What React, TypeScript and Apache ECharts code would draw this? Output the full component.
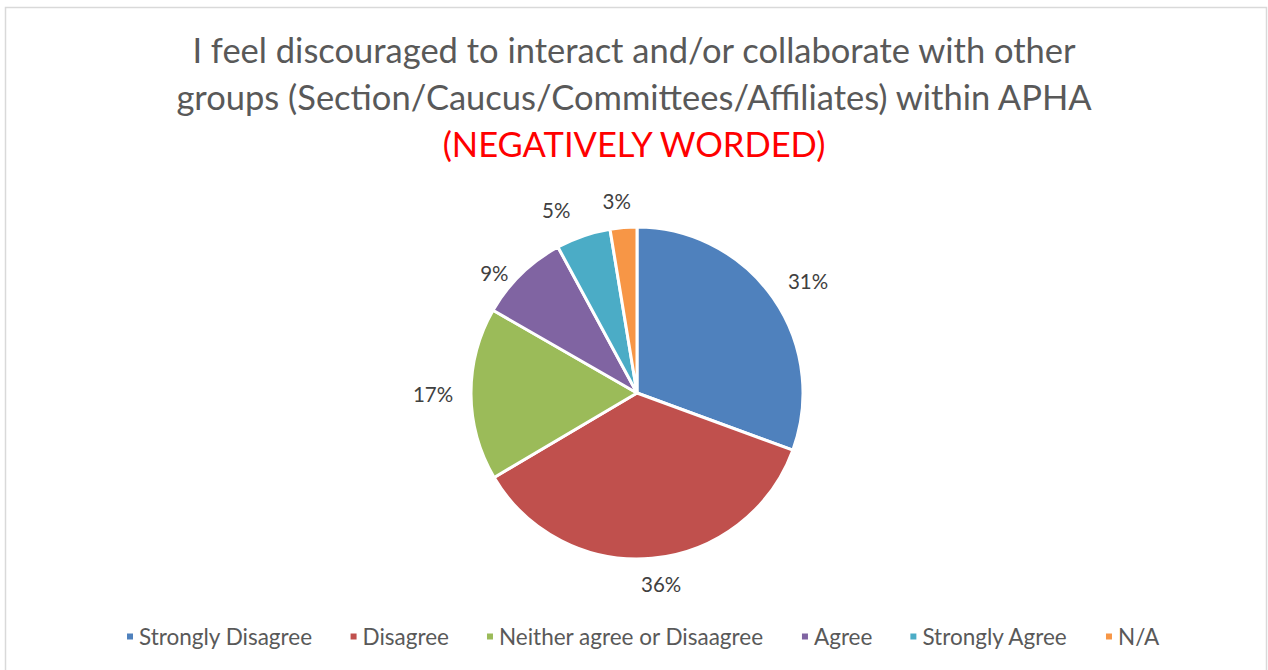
import React, { useEffect, useRef } from "react";
import * as echarts from "echarts";

const categories = [
  "Strongly Disagree",
  "Disagree",
  "Neither agree or Disaagree",
  "Agree",
  "Strongly Agree",
  "N/A",
];
const values = [30.6, 35.9, 16.8, 8.8, 5.3, 2.6];
const colors = ["#4F81BD", "#C0504D", "#9BBB59", "#8064A2", "#4BACC6", "#F79646"];
const titleLines = [
  "I feel discouraged to interact and/or collaborate with other",
  "groups (Section/Caucus/Committees/Affiliates) within APHA",
];
const subtitle = "(NEGATIVELY WORDED)";

const FONT = "Lato, 'Open Sans', sans-serif";

export default function App() {
  const ref = useRef<HTMLDivElement>(null);
  useEffect(() => {
    if (!ref.current) return;
    const chart = echarts.init(ref.current, undefined, { renderer: "svg" });
    // best-fit style nudges for the data labels (as Excel places them)
    const labelNudges = [
      [7, 2],
      [6, -8],
      [-4, 0],
      [-3, 23],
      [-16, 6],
      [-4, 7],
    ];
    const data = categories.map((name, i) => ({
      name,
      value: values[i],
      itemStyle: { color: colors[i] },
    }));
    const total = values.reduce((a, b) => a + b, 0);
    chart.setOption({
      animation: false,
      backgroundColor: "#ffffff",
      title: {
        left: "center",
        top: 21,
        text: titleLines.join("\n") + "\n{red|" + subtitle + "}",
        textStyle: {
          fontFamily: FONT,
          fontSize: 34.5,
          fontWeight: "normal",
          color: "#595959",
          lineHeight: 47,
          rich: {
            red: {
              fontFamily: FONT,
              fontSize: 34.5,
              color: "#FF0000",
              lineHeight: 47,
            },
          },
        },
      },
      legend: {
        bottom: 17,
        left: 120,
        icon: "rect",
        itemWidth: 8,
        itemHeight: 8,
        itemGap: 36,
        data: categories,
        textStyle: { fontFamily: FONT, fontSize: 22.5, color: "#595959" },
      },
      series: [
        {
          type: "pie",
          center: [637, 393],
          radius: [0, 166],
          startAngle: 90,
          clockwise: true,
          silent: true,
          data,
          itemStyle: { borderColor: "#ffffff", borderWidth: 3 },
          label: { show: false },
          labelLine: { show: false },
        },
        {
          type: "pie",
          center: [637, 393],
          radius: [193, 201],
          startAngle: 90,
          clockwise: true,
          silent: true,
          data: categories.map((name, i) => ({
            name,
            value: values[i],
            label: { offset: labelNudges[i] },
          })),
          itemStyle: { color: "rgba(0,0,0,0)", borderWidth: 0 },
          emphasis: { disabled: true },
          label: {
            show: true,
            position: "inside",
            fontFamily: FONT,
            fontSize: 20.5,
            color: "#404040",
            formatter: (p: any) => Math.round((p.value / total) * 100) + "%",
          },
          labelLine: { show: false },
        },
      ],
      graphic: [
        {
          type: "rect",
          shape: { x: 5.5, y: 7.5, width: 1261, height: 680 },
          style: { fill: "none", stroke: "#d9d9d9", lineWidth: 1.5 },
          silent: true,
          z: 100,
        },
      ],
    });
    return () => chart.dispose();
  }, []);
  return (
    <div
      ref={ref}
      style={{ position: "fixed", left: 0, top: 0, width: 1268, height: 670 }}
    />
  );
}
